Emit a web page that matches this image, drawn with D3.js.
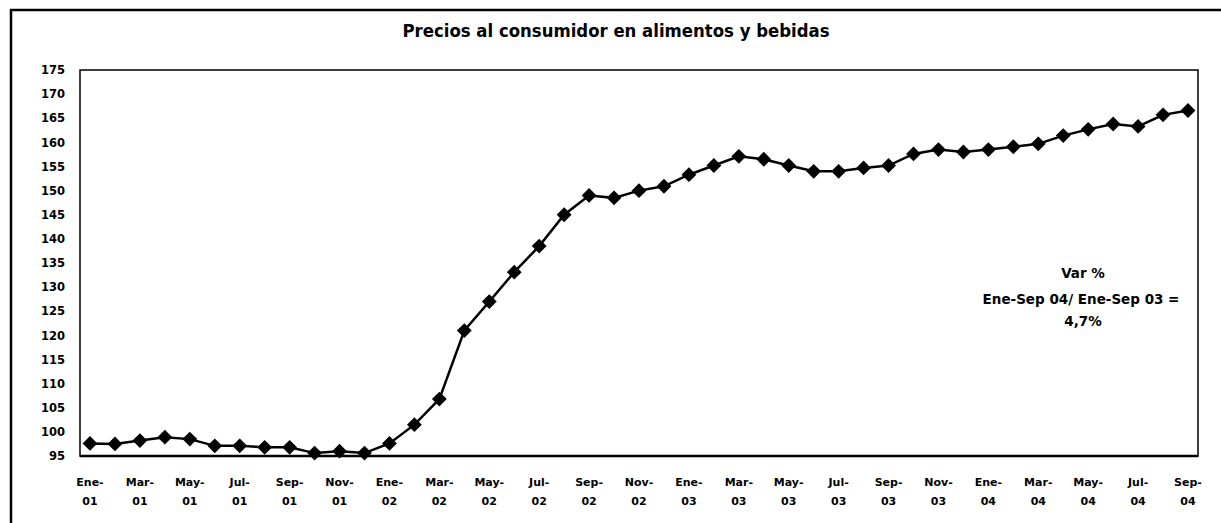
<!DOCTYPE html>
<html>
<head>
<meta charset="utf-8">
<script src="https://cdn.jsdelivr.net/npm/d3@7"></script>
<style>
  body { margin: 0; background: #fff; }
  svg { display: block; font-family: "DejaVu Sans", "Liberation Sans", sans-serif; }
  .lbl { font-weight: bold; fill: #000; }
</style>
</head>
<body>
<svg id="chart" width="1221" height="523"></svg>
<script>
// monthly index, Jan 2001 - Sep 2004
const months = ['Ene', 'Feb', 'Mar', 'Abr', 'May', 'Jun', 'Jul', 'Ago', 'Sep', 'Oct', 'Nov', 'Dic'];
const years = ['01', '02', '03', '04'];
const values = [
  97.6, 97.5, 98.2, 98.9, 98.5, 97.1, 97.1, 96.8, 96.8, 95.6, 96.0, 95.6,
  97.6, 101.5, 106.8, 121.0, 127.0, 133.1, 138.5, 145.0, 149.0, 148.5, 150.0, 150.9,
  153.3, 155.2, 157.1, 156.5, 155.2, 154.0, 154.0, 154.7, 155.2, 157.6, 158.5, 158.0,
  158.5, 159.1, 159.7, 161.4, 162.7, 163.8, 163.3, 165.7, 166.6
];
const yTicks = d3.range(95, 176, 5);
const title = 'Precios al consumidor en alimentos y bebidas';
const note = ['Var %', 'Ene-Sep 04/ Ene-Sep 03 =', '4,7%'];

const labels = values.map((v, i) => months[i % 12] + '-' + years[Math.floor(i / 12)]);
const data = values.map((v, i) => ({ key: labels[i], value: v, i }));

const svg = d3.select('#chart');
const margin = { left: 80, top: 70, right: 1198, bottom: 456 };

// outer frame (runs off the right and bottom of the picture)
svg.append('rect')
  .attr('x', 11).attr('y', 10)
  .attr('width', 1240).attr('height', 540)
  .attr('fill', 'none').attr('stroke', '#000').attr('stroke-width', 2.5);

svg.append('text')
  .attr('class', 'lbl')
  .attr('x', 616).attr('y', 37)
  .attr('text-anchor', 'middle')
  .attr('font-size', 17)
  .attr('textLength', 427)
  .attr('lengthAdjust', 'spacingAndGlyphs')
  .text(title);

const x = d3.scalePoint()
  .domain(labels)
  .range([margin.left, margin.right])
  .padding(0.4);

const y = d3.scaleLinear()
  .domain([95, 175])
  .range([margin.bottom, margin.top]);

// plot frame
svg.append('rect')
  .attr('x', margin.left).attr('y', margin.top)
  .attr('width', margin.right - margin.left)
  .attr('height', margin.bottom - margin.top)
  .attr('fill', 'none').attr('stroke', '#000').attr('stroke-width', 1.5);

// y axis labels
const yAxis = svg.append('g')
  .attr('transform', `translate(${margin.left},0)`)
  .call(d3.axisLeft(y).tickValues(yTicks).tickSize(0).tickPadding(15));
yAxis.select('.domain').remove();
yAxis.selectAll('text')
  .attr('class', 'lbl')
  .attr('font-size', 11.5)
  .attr('font-family', '"DejaVu Sans", sans-serif');

// x axis baseline (heavier)
svg.append('line')
  .attr('x1', margin.left).attr('x2', margin.right)
  .attr('y1', margin.bottom).attr('y2', margin.bottom)
  .attr('stroke', '#000').attr('stroke-width', 2.5);

// x labels every two months, on two lines
const xl = svg.append('g')
  .selectAll('text')
  .data(data.filter(d => d.i % 2 === 0))
  .join('text')
  .attr('class', 'lbl')
  .attr('font-size', 11)
  .attr('text-anchor', 'middle')
  .attr('transform', d => `translate(${x(d.key)},0)`);
xl.append('tspan').attr('x', 0).attr('y', 486).text(d => d.key.split('-')[0] + '-');
xl.append('tspan').attr('x', 0).attr('y', 505).text(d => d.key.split('-')[1]);

// series
const line = d3.line()
  .x(d => x(d.key))
  .y(d => y(d.value));

svg.append('path')
  .datum(data)
  .attr('d', line)
  .attr('fill', 'none')
  .attr('stroke', '#000')
  .attr('stroke-width', 2.5);

const diamond = d3.symbol(d3.symbolSquare, 110);
svg.append('g')
  .selectAll('path')
  .data(data)
  .join('path')
  .attr('d', diamond)
  .attr('transform', d => `translate(${x(d.key)},${y(d.value)}) rotate(45)`)
  .attr('fill', '#000');

// note
svg.append('g')
  .selectAll('text')
  .data(note)
  .join('text')
  .attr('class', 'lbl')
  .attr('font-size', 13.5)
  .attr('text-anchor', 'middle')
  .attr('x', (d, i) => i === 1 ? 1081 : 1083)
  .attr('y', (d, i) => [278, 304, 326][i])
  .text(d => d);
</script>
</body>
</html>
